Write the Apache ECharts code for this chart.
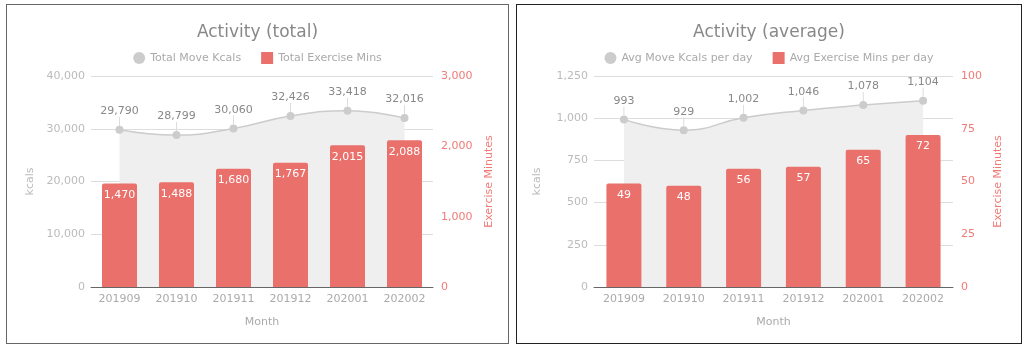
<!DOCTYPE html>
<html>
<head>
<meta charset="utf-8">
<script src="https://cdn.jsdelivr.net/npm/echarts@6/dist/echarts.min.js"></script>
<style>
    html, body { margin: 0; padding: 0; background: #fff; }
    .box { position: absolute; top: 4px; height: 340px; border: 1px solid #555; box-sizing: border-box; }
    #echart-total { left: 6px; width: 503px; border-color: #666; }
    #echart-average { left: 516px; width: 506px; border-color: #222; }
</style>
</head>
<body>
<div id="echart-total" class="box"></div>
<div id="echart-average" class="box"></div>
<script>
// data
var months = ['201909', '201910', '201911', '201912', '202001', '202002'];
var totalKcals = [29790, 28799, 30060, 32426, 33418, 32016];
var totalMins = [1470, 1488, 1680, 1767, 2015, 2088];
var avgKcals = [993, 929, 1002, 1046, 1078, 1104];
var avgMins = [49, 48, 56, 57, 65, 72];

var FONT = 'DejaVu Sans';
var RED = '#ea706c';

function buildOption(cfg) {
    return {
        textStyle: { fontFamily: FONT },
        title: {
            text: cfg.title,
            left: 'center',
            top: 14,
            textStyle: { color: '#888', fontSize: 17, fontWeight: 'normal', fontFamily: FONT }
        },
        legend: {
            top: 42,
            itemGap: 20,
            itemWidth: 12,
            itemHeight: 12,
            textStyle: { color: '#aaa', fontSize: 11, fontFamily: FONT },
            data: [
                { name: cfg.lineName, icon: 'circle' },
                { name: cfg.barName, icon: 'rect' }
            ]
        },
        grid: cfg.grid,
        xAxis: {
            type: 'category',
            data: months,
            name: 'Month',
            nameLocation: 'middle',
            nameGap: 30,
            nameTextStyle: { color: '#aaa', fontSize: 11 },
            axisLine: { lineStyle: { color: '#666' } },
            axisTick: { show: false },
            axisLabel: { color: '#aaa', fontSize: 11, margin: 7 }
        },
        yAxis: [
            {
                type: 'value',
                min: 0,
                max: cfg.leftMax,
                interval: cfg.leftInterval,
                name: 'kcals',
                nameLocation: 'middle',
                nameGap: cfg.leftNameGap,
                nameTextStyle: { color: '#bbb', fontSize: 11 },
                axisLine: { show: false },
                axisTick: { show: false },
                splitLine: { lineStyle: { color: '#ddd' } },
                axisLabel: { color: '#bbb', fontSize: 11, margin: 6 }
            },
            {
                type: 'value',
                min: 0,
                max: cfg.rightMax,
                interval: cfg.rightInterval,
                name: 'Exercise Minutes',
                nameLocation: 'middle',
                nameGap: cfg.rightNameGap,
                nameTextStyle: { color: '#f07a76', fontSize: 11 },
                axisLine: { show: false },
                axisTick: { show: false },
                splitLine: { show: false },
                axisLabel: { color: '#f07a76', fontSize: 11, margin: 8 }
            }
        ],
        series: [
            {
                name: cfg.lineName,
                type: 'line',
                yAxisIndex: 0,
                smooth: true,
                symbol: 'circle',
                symbolSize: 8,
                z: 1,
                data: cfg.lineData,
                itemStyle: { color: '#ccc' },
                lineStyle: { color: '#ccc', width: 1.5 },
                areaStyle: { color: '#efefef', opacity: 1 },
                label: {
                    show: true,
                    position: 'top',
                    distance: 4,
                    color: '#888',
                    fontSize: 11,
                    formatter: function (p) { return p.value.toLocaleString('en-US'); }
                },
                labelLayout: { dy: -5 },
                labelLine: { show: true, lineStyle: { color: '#ddd', width: 1 } }
            },
            {
                name: cfg.barName,
                type: 'bar',
                yAxisIndex: 1,
                barWidth: 35,
                z: 3,
                data: cfg.barData,
                itemStyle: { color: RED, borderRadius: [2, 2, 0, 0] },
                label: {
                    show: true,
                    position: 'insideTop',
                    distance: 6,
                    color: '#fff',
                    fontSize: 11,
                    formatter: function (p) { return p.value.toLocaleString('en-US'); }
                }
            }
        ]
    };
}

var totalChart = getChart('echart-total');
totalChart.setOption(buildOption({
    title: 'Activity (total)',
    lineName: 'Total Move Kcals',
    barName: 'Total Exercise Mins',
    lineData: totalKcals,
    barData: totalMins,
    leftMax: 40000, leftInterval: 10000,
    rightMax: 3000, rightInterval: 1000,
    leftNameGap: 55, rightNameGap: 50,
    grid: { left: 84, right: 75, top: 71, bottom: 56 }
}));

var avgChart = getChart('echart-average');
avgChart.setOption(buildOption({
    title: 'Activity (average)',
    lineName: 'Avg Move Kcals per day',
    barName: 'Avg Exercise Mins per day',
    lineData: avgKcals,
    barData: avgMins,
    leftMax: 1250, leftInterval: 250,
    rightMax: 100, rightInterval: 25,
    leftNameGap: 51, rightNameGap: 40,
    grid: { left: 77, right: 68, top: 71, bottom: 56 }
}));

function getChart(id) {
    var dom = document.getElementById(id);
    return echarts.init(dom);
}
</script>
</body>
</html>
